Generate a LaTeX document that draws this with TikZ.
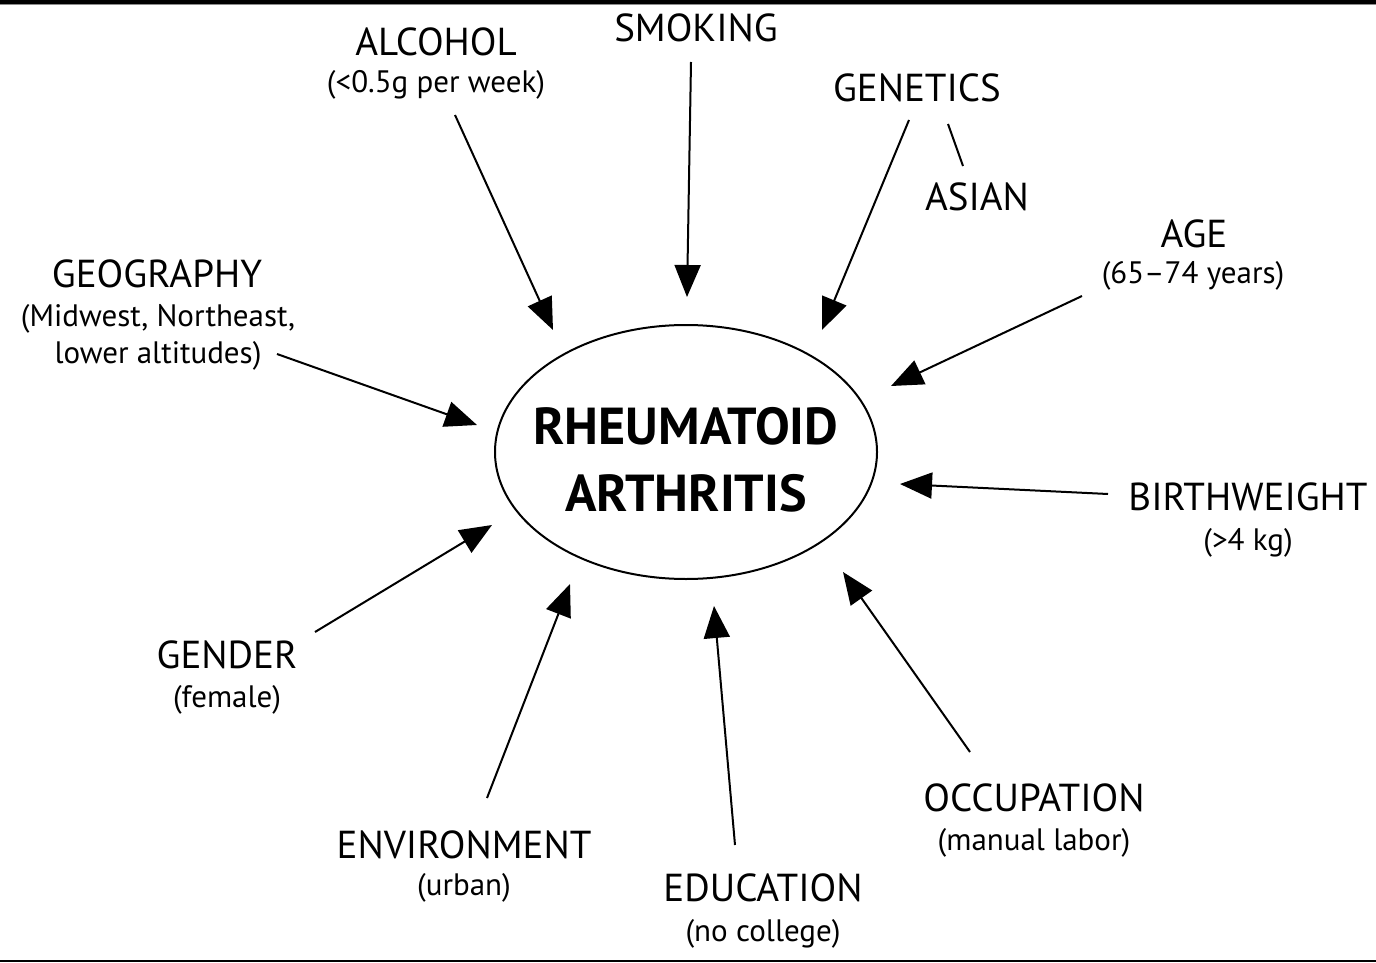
\documentclass[tikz,border=0pt]{standalone}
\usepackage{fontspec}
\setmainfont{PT Sans}
\usetikzlibrary{arrows.meta, positioning, shapes.geometric}

\begin{document}
\begin{tikzpicture}[
    x=0.5pt, y=-0.5pt,
    >={Triangle[length=16pt, width=13pt]},
    factor/.style={inner sep=0pt, font=\fontsize{19.5}{22}\selectfont},
    detail/.style={inner sep=0pt, align=center,
                   font=\fontsize{15.5}{18.5}\selectfont},
    disease/.style={inner sep=0pt, align=center,
                    font=\fontsize{26}{33.5}\selectfont\bfseries},
    link/.style={->, line width=1pt}
  ]
  \useasboundingbox (0,0) rectangle (1376,963);
  % page rules
  \fill (0,0) rectangle (1376,4);
  \draw[black!45, line width=0.4pt] (0,4.6) -- (1376,4.6);
  \draw[line width=0.8pt] (0,961) -- (1376,961);

  % centre
  \node[draw, ellipse, line width=1pt, minimum width=191pt,
        minimum height=127pt] (ra) at (686,452) {};
  \node[disease] (ra-name) at (686,460) {RHEUMATOID\\ARTHRITIS};

  % risk factors
  \node[factor] (alcohol) at (436,42) {ALCOHOL};
  \node[detail] (alcohol-sub) at (436,85) {(<0.5g per week)};
  \node[factor] (smoking) at (696,28) {SMOKING};
  \node[factor] (genetics) at (917,88) {GENETICS};
  \node[factor] (asian) at (977,197) {ASIAN};
  \node[factor] (age) at (1194,234) {AGE};
  \node[detail] (age-sub) at (1193,276) {(65–74 years)};
  \node[factor] (geography) at (157,274) {GEOGRAPHY};
  \node[detail] (geography-sub) at (158,337) {(Midwest, Northeast,\\lower altitudes)};
  \node[factor] (birthweight) at (1248,497) {BIRTHWEIGHT};
  \node[detail] (birthweight-sub) at (1248,543) {(>4 kg)};
  \node[factor] (gender) at (227,655) {GENDER};
  \node[detail] (gender-sub) at (227,700) {(female)};
  \node[factor] (environment) at (464,845) {ENVIRONMENT};
  \node[detail] (environment-sub) at (464,888) {(urban)};
  \node[factor] (education) at (763,888) {EDUCATION};
  \node[detail] (education-sub) at (763,934) {(no college)};
  \node[factor] (occupation) at (1034,798) {OCCUPATION};
  \node[detail] (occupation-sub) at (1034,843) {(manual labor)};

  % arrow ends
  \coordinate (alcohol-out) at (455,115);
  \coordinate (alcohol-in) at (553,330);
  \coordinate (smoking-out) at (691,62);
  \coordinate (smoking-in) at (687,297);
  \coordinate (genetics-out) at (909,120);
  \coordinate (genetics-in) at (822,330);
  \coordinate (asian-out) at (948,124);
  \coordinate (asian-in) at (963,166);
  \coordinate (age-out) at (1082,296);
  \coordinate (age-in) at (891,386);
  \coordinate (geography-out) at (277,354);
  \coordinate (geography-in) at (477,425);
  \coordinate (birthweight-out) at (1108,494);
  \coordinate (birthweight-in) at (900,484);
  \coordinate (gender-out) at (315,632);
  \coordinate (gender-in) at (492,525);
  \coordinate (environment-out) at (487,798);
  \coordinate (environment-in) at (570,584);
  \coordinate (education-out) at (735,845);
  \coordinate (education-in) at (714,606);
  \coordinate (occupation-out) at (970,752);
  \coordinate (occupation-in) at (843,572);

  \foreach \f in {alcohol, smoking, genetics, age, geography,
                  birthweight, gender, environment, education, occupation}
    \draw[link] (\f-out) -- (\f-in);
  \draw[line width=1pt] (asian-out) -- (asian-in);
\end{tikzpicture}
\end{document}
